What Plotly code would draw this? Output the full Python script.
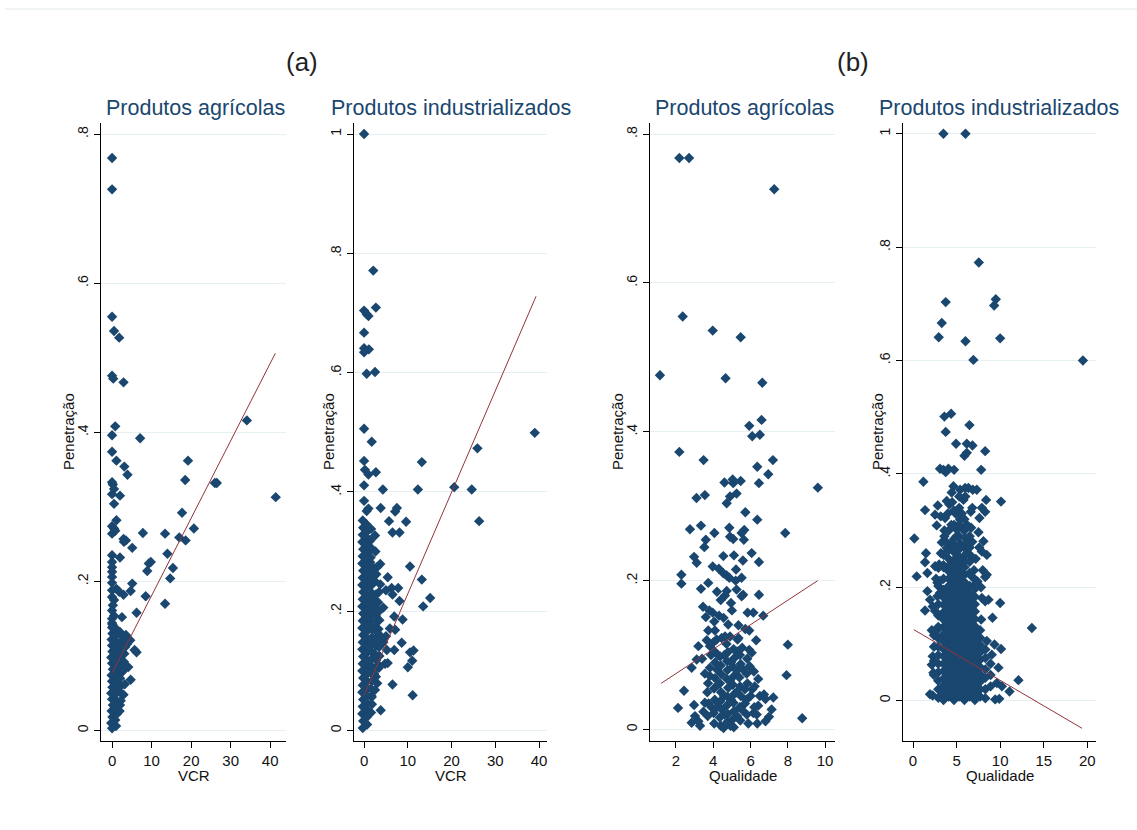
import plotly.graph_objects as go

# ---------------- data ----------------
# Panel (a) left: Produtos agrícolas, VCR vs Penetração
agr_vcr_pts = [
    (0, 0.768), (0, 0.726), (0, 0.555), (0.5, 0.536), (1.8, 0.527), (0, 0.476), (0.3, 0.472), (2.9, 0.467),
    (0.8, 0.408), (0, 0.396), (7.1, 0.392), (0, 0.374), (1.1, 0.362), (3.1, 0.354), (3.9, 0.343), (19.2, 0.362),
    (34.1, 0.416), (18.5, 0.336), (26.0, 0.332), (26.5, 0.332), (41.4, 0.313), (0, 0.333), (0.2, 0.330),
    (0.5, 0.324), (0, 0.317), (2.0, 0.315), (0.5, 0.304), (17.7, 0.292), (1.1, 0.282), (0, 0.274), (0.5, 0.271),
    (0, 0.264), (0.8, 0.268), (7.8, 0.265), (13.4, 0.264), (20.7, 0.271), (17.0, 0.259), (18.6, 0.255),
    (2.9, 0.257), (3.5, 0.255), (3.0, 0.253), (5.1, 0.245), (14.0, 0.237), (0, 0.235), (2.0, 0.232), (0, 0.226),
    (0, 0.219), (0, 0.213), (9.8, 0.226), (9.3, 0.224), (8.9, 0.214), (15.4, 0.218), (14.7, 0.204), (0, 0.206),
    (0, 0.198), (5.1, 0.197), (4.7, 0.187), (1.1, 0.190), (1.8, 0.186), (0, 0.179), (0.5, 0.175), (2.9, 0.182),
    (8.5, 0.180), (13.4, 0.170), (6.2, 0.158), (0, 0.161), (0.5, 0.154), (0, 0.150), (2.5, 0.152), (4.6, 0.121),
    (5.7, 0.108), (6.2, 0.105), (4.1, 0.085), (4.7, 0.068), (2.0, 0.034), (3.1, 0.103), (3.8, 0.116),
    (0, 0.003), (-0.2, 0.010), (0.1, 0.018), (-0.1, 0.026), (0.2, 0.034), (0, 0.042), (-0.2, 0.050),
    (0.1, 0.058), (0, 0.066), (-0.1, 0.074), (0.2, 0.082), (0, 0.090), (-0.2, 0.098), (0.1, 0.106), (0, 0.114),
    (-0.1, 0.122), (0.1, 0.130), (0, 0.138), (0, 0.144), (0.2, 0.168), (0, 0.188), (0.1, 0.142),
    (1.0, 0.006), (0.8, 0.014), (1.2, 0.022), (0.9, 0.030), (1.1, 0.040), (0.7, 0.048), (1.3, 0.056),
    (0.9, 0.064), (1.2, 0.072), (0.8, 0.080), (1.0, 0.089), (1.3, 0.097), (0.9, 0.105), (1.1, 0.113),
    (0.8, 0.121), (1.2, 0.129), (0.9, 0.137),
    (1.9, 0.026), (2.2, 0.040), (1.8, 0.052), (2.3, 0.060), (2.0, 0.070), (2.4, 0.078), (1.8, 0.086),
    (2.1, 0.094), (2.5, 0.101), (1.9, 0.110), (2.2, 0.118), (2.6, 0.126), (2.0, 0.132),
    (2.9, 0.048), (3.2, 0.062), (2.8, 0.080), (3.0, 0.092), (3.3, 0.112), (2.9, 0.122), (3.5, 0.128),
]
agr_vcr_fit_x = [0.0, 41.3]
agr_vcr_fit_y = [0.077, 0.506]

# Panel (a) right: Produtos industrializados, VCR vs Penetração
ind_vcr_pts = [
    (0, 1.0), (2.1, 0.771), (2.7, 0.709), (0, 0.704), (0.6, 0.698), (1.0, 0.695), (0, 0.667), (0, 0.641),
    (0, 0.634), (1.1, 0.639), (0.6, 0.598), (2.5, 0.601),
    (0, 0.506), (1.75, 0.484), (39.0, 0.499), (25.9, 0.473), (13.2, 0.450), (0, 0.452), (0.2, 0.437),
    (1.0, 0.429), (2.7, 0.433), (0, 0.411), (4.3, 0.404), (12.3, 0.404), (20.6, 0.408), (24.6, 0.404),
    (26.3, 0.351), (0, 0.385), (1.0, 0.372), (0.6, 0.368), (3.8, 0.373), (7.5, 0.373), (7.1, 0.367),
    (5.7, 0.351), (9.6, 0.350), (6.5, 0.332), (8.1, 0.332), (2.5, 0.327), (10.5, 0.275), (3.7, 0.279),
    (3.0, 0.274), (1.4, 0.282), (2.3, 0.272), (5.4, 0.257), (13.2, 0.253), (3.7, 0.245), (3.4, 0.232),
    (5.0, 0.235), (6.3, 0.239), (7.8, 0.239), (6.5, 0.228), (8.1, 0.217), (15.1, 0.222), (13.5, 0.208),
    (4.4, 0.206), (6.9, 0.191), (8.8, 0.186), (7.1, 0.169), (5.9, 0.171), (3.7, 0.159), (5.0, 0.158),
    (4.4, 0.148), (8.6, 0.147), (5.2, 0.135), (6.9, 0.135), (10.5, 0.131), (11.3, 0.134), (11.0, 0.117),
    (10.0, 0.106), (4.8, 0.112), (5.4, 0.113), (3.4, 0.105), (6.5, 0.077), (11.1, 0.059), (3.8, 0.034),
    (3.0, 0.079), (1.75, 0.056), (2.3, 0.095),
    (-0.3, 0.004), (-0.2, 0.016), (-0.4, 0.028), (-0.3, 0.040), (-0.2, 0.052), (-0.4, 0.064), (-0.3, 0.076),
    (-0.2, 0.088), (-0.4, 0.100), (-0.3, 0.112), (-0.2, 0.124), (-0.4, 0.136), (-0.3, 0.148), (-0.2, 0.160),
    (-0.4, 0.172), (-0.3, 0.184), (-0.2, 0.196), (-0.4, 0.208), (-0.3, 0.220), (-0.2, 0.232), (-0.4, 0.244),
    (-0.3, 0.256), (-0.2, 0.268), (-0.4, 0.280), (-0.3, 0.292), (-0.2, 0.304), (-0.4, 0.316), (-0.3, 0.328),
    (-0.2, 0.340), (-0.3, 0.352),
    (0.7, 0.010), (0.6, 0.022), (0.8, 0.034), (0.7, 0.046), (0.6, 0.058), (0.8, 0.070), (0.7, 0.082),
    (0.6, 0.094), (0.8, 0.106), (0.7, 0.118), (0.6, 0.130), (0.8, 0.142), (0.7, 0.154), (0.6, 0.166),
    (0.8, 0.178), (0.7, 0.190), (0.6, 0.202), (0.8, 0.214), (0.7, 0.226), (0.6, 0.238), (0.8, 0.250),
    (0.7, 0.262), (0.6, 0.274), (0.8, 0.286), (0.7, 0.298), (0.6, 0.310), (0.8, 0.322), (0.7, 0.334),
    (0.5, 0.346),
    (1.6, 0.030), (1.8, 0.044), (1.7, 0.058), (1.6, 0.070), (1.8, 0.083), (1.7, 0.096), (1.6, 0.108),
    (1.8, 0.120), (1.7, 0.132), (1.6, 0.144), (1.8, 0.156), (1.7, 0.170), (1.6, 0.182), (1.8, 0.194),
    (1.7, 0.206), (1.6, 0.218), (1.8, 0.230), (1.7, 0.244), (1.6, 0.256), (1.8, 0.268), (1.5, 0.290),
    (1.7, 0.305), (1.4, 0.318), (1.6, 0.338),
    (2.5, 0.068), (2.7, 0.090), (2.6, 0.104), (2.8, 0.118), (2.5, 0.128), (2.7, 0.142), (2.6, 0.152),
    (2.8, 0.166), (2.5, 0.180), (2.7, 0.192), (2.6, 0.205), (2.4, 0.218), (2.7, 0.228), (2.5, 0.250),
    (2.8, 0.262), (2.6, 0.300),
    (3.3, 0.110), (3.5, 0.125), (3.4, 0.140), (3.6, 0.150), (3.3, 0.170), (3.5, 0.185), (3.4, 0.200),
    (3.2, 0.215),
]
ind_vcr_fit_x = [0.0, 39.3]
ind_vcr_fit_y = [0.059, 0.728]

# Panel (b) left: Produtos agrícolas, Qualidade vs Penetração
agr_q_pts = [
    (2.18, 0.768), (2.70, 0.768), (7.27, 0.726), (2.36, 0.555), (3.97, 0.536), (5.47, 0.527), (1.14, 0.476),
    (4.66, 0.472), (6.63, 0.466), (5.93, 0.408), (6.59, 0.416), (6.09, 0.394), (6.50, 0.396),
    (2.18, 0.373), (3.48, 0.362), (7.20, 0.362), (6.36, 0.353), (6.95, 0.343), (4.60, 0.332), (5.07, 0.331),
    (5.04, 0.336), (5.47, 0.334), (6.45, 0.331), (9.61, 0.325), (3.10, 0.311), (3.55, 0.315), (4.90, 0.313),
    (5.25, 0.317), (4.72, 0.304), (5.72, 0.292), (6.36, 0.282), (2.75, 0.269), (3.34, 0.274), (4.86, 0.271),
    (4.06, 0.264), (7.86, 0.264), (4.90, 0.259), (5.07, 0.256), (5.66, 0.268), (5.52, 0.264), (5.64, 0.255),
    (3.60, 0.255), (3.52, 0.245), (2.97, 0.232), (3.11, 0.224), (4.54, 0.233), (5.11, 0.234), (6.06, 0.237),
    (6.45, 0.225), (5.59, 0.227), (3.97, 0.219), (4.30, 0.216), (4.54, 0.210), (4.72, 0.207), (4.86, 0.204),
    (5.22, 0.215), (5.52, 0.204), (2.29, 0.208), (2.29, 0.196), (3.73, 0.197), (3.34, 0.189), (4.72, 0.186),
    (4.63, 0.180), (5.25, 0.188), (5.60, 0.181), (5.52, 0.179), (6.45, 0.181), (4.40, 0.174), (4.95, 0.170),
    (3.79, 0.160), (3.97, 0.157), (4.31, 0.153), (3.60, 0.151), (5.84, 0.157), (6.15, 0.157), (6.68, 0.153),
    (4.80, 0.141), (3.73, 0.133), (4.09, 0.133), (5.72, 0.135), (5.93, 0.133), (8.00, 0.114), (3.20, 0.112),
    (3.82, 0.112), (4.00, 0.117), (4.18, 0.121), (4.45, 0.123), (4.63, 0.125), (5.30, 0.121), (5.35, 0.123),
    (5.93, 0.107), (6.06, 0.103), (3.11, 0.094), (2.84, 0.083), (3.82, 0.083), (7.93, 0.073), (6.41, 0.068),
    (3.82, 0.072), (4.09, 0.069), (2.43, 0.052), (2.11, 0.029), (2.97, 0.033), (8.77, 0.015), (2.84, 0.009),
    (3.02, 0.018), (3.20, 0.011), (3.29, 0.005), (3.47, 0.024), (3.55, 0.036), (5.88, 0.008), (6.36, 0.008),
    (6.80, 0.011), (6.99, 0.017), (7.13, 0.027), (7.22, 0.043), (6.50, 0.045), (6.72, 0.047), (6.80, 0.041),
    (6.41, 0.032), (6.15, 0.022), (6.33, 0.020), (6.09, 0.054), (5.70, 0.054), (5.70, 0.035),
    (4.40, 0.005), (4.35, 0.016), (4.45, 0.027), (4.38, 0.038), (4.42, 0.050), (4.36, 0.062), (4.44, 0.074),
    (4.40, 0.086), (4.37, 0.098),
    (4.75, 0.010), (4.78, 0.021), (4.72, 0.032), (4.76, 0.044), (4.80, 0.056), (4.73, 0.068), (4.77, 0.080),
    (4.74, 0.092), (4.79, 0.104), (4.71, 0.115),
    (5.10, 0.003), (5.06, 0.014), (5.12, 0.025), (5.08, 0.036), (5.14, 0.048), (5.05, 0.060), (5.11, 0.072),
    (5.07, 0.084), (5.13, 0.096), (5.09, 0.108),
    (5.45, 0.012), (5.42, 0.030), (5.48, 0.045), (5.44, 0.058), (5.40, 0.070), (5.47, 0.088), (5.43, 0.100),
    (4.05, 0.008), (4.02, 0.022), (4.08, 0.040), (4.04, 0.055), (4.10, 0.090), (4.06, 0.105),
    (3.70, 0.018), (3.75, 0.035), (3.68, 0.050), (3.72, 0.062),
    (5.80, 0.020), (5.78, 0.040), (5.83, 0.062), (5.79, 0.075), (5.82, 0.095),
    (6.20, 0.030), (6.22, 0.058), (6.18, 0.078),
    (4.55, 0.002), (4.58, 0.045), (4.60, 0.020), (4.92, 0.005), (4.95, 0.040), (4.90, 0.065), (5.28, 0.018),
    (5.25, 0.050), (5.30, 0.080), (4.20, 0.030), (4.25, 0.060), (4.22, 0.080), (3.90, 0.030), (3.88, 0.100),
    (5.60, 0.025), (5.62, 0.080), (5.95, 0.085), (6.00, 0.045), (4.60, 0.100), (4.95, 0.090), (5.28, 0.105),
    (4.25, 0.100), (3.55, 0.075), (3.40, 0.095),
    (4.05, 0.145), (4.55, 0.150), (5.00, 0.160), (5.35, 0.140), (3.65, 0.120), (4.90, 0.125), (5.55, 0.110),
    (6.30, 0.120), (3.45, 0.165), (5.20, 0.200), (4.20, 0.185),
]
agr_q_fit_x = [1.2, 9.6]
agr_q_fit_y = [0.062, 0.200]

# Panel (b) right: Produtos industrializados, Qualidade vs Penetração
ind_q_pts = [
    (3.49, 1.0), (6.02, 1.0), (7.55, 0.773), (3.75, 0.703), (9.50, 0.708), (9.31, 0.697), (3.30, 0.666),
    (2.95, 0.641), (6.02, 0.634), (10.0, 0.639), (6.93, 0.601), (19.5, 0.600), (3.60, 0.501), (4.37, 0.506),
    (3.75, 0.474), (6.48, 0.486), (4.94, 0.453), (6.17, 0.453), (6.82, 0.450), (5.90, 0.432), (6.17, 0.437),
    (8.28, 0.440), (3.10, 0.409), (3.49, 0.407), (4.06, 0.409), (4.71, 0.407), (3.75, 0.403), (7.82, 0.407),
    (1.19, 0.386), (4.64, 0.378), (5.40, 0.372), (5.98, 0.375), (6.36, 0.375), (6.86, 0.372), (7.32, 0.372),
    (4.44, 0.367), (5.79, 0.354), (8.39, 0.354), (10.1, 0.351), (2.84, 0.344), (3.87, 0.352), (4.18, 0.346),
    (1.38, 0.336), (6.63, 0.333), (7.90, 0.340), (8.28, 0.333), (2.53, 0.328), (3.18, 0.325), (3.68, 0.322),
    (4.94, 0.329), (5.40, 0.319), (7.62, 0.322), (2.72, 0.309), (5.00, 0.302), (5.79, 0.302), (6.67, 0.305),
    (7.51, 0.297), (0.15, 0.286), (3.60, 0.290), (5.00, 0.290), (5.98, 0.287), (8.08, 0.281), (3.30, 0.279),
    (4.25, 0.275), (5.40, 0.277), (6.17, 0.278), (3.87, 0.269), (4.83, 0.272), (1.49, 0.260), (7.90, 0.263),
    (8.47, 0.257), (3.49, 0.257), (6.17, 0.260), (6.55, 0.257), (1.38, 0.244), (5.00, 0.252), (5.40, 0.243),
    (5.98, 0.246), (2.53, 0.237), (2.91, 0.234), (3.49, 0.239), (4.06, 0.237), (4.44, 0.240), (1.65, 0.225),
    (0.42, 0.219), (8.47, 0.222), (8.28, 0.218), (2.64, 0.215), (3.10, 0.211), (6.74, 0.219), (7.13, 0.213),
    (2.80, 0.208), (2.91, 0.202), (7.13, 0.205), (1.65, 0.193), (3.10, 0.190), (2.80, 0.184), (7.90, 0.181),
    (8.66, 0.178), (8.28, 0.175), (1.95, 0.178), (10.0, 0.172), (2.26, 0.166), (2.53, 0.158), (1.38, 0.159),
    (7.82, 0.143), (9.12, 0.146), (13.64, 0.128), (2.15, 0.124), (2.80, 0.125), (8.47, 0.105), (9.35, 0.099),
    (10.1, 0.091), (9.04, 0.081), (2.26, 0.078), (2.15, 0.063), (2.34, 0.049), (9.80, 0.058), (12.1, 0.036),
    (11.07, 0.016), (1.95, 0.011), (2.26, 0.009), (9.43, 0.002), (9.90, 0.003), (9.62, 0.031), (10.2, 0.025),
    (3.2, 0.26), (3.6, 0.30), (4.0, 0.33), (4.4, 0.31), (5.6, 0.33), (6.2, 0.31), (6.8, 0.28), (7.2, 0.25),
    (7.0, 0.23), (3.0, 0.24), (3.8, 0.28), (4.5, 0.35), (6.0, 0.36), (6.8, 0.34), (7.6, 0.27), (7.4, 0.21),
    (7.8, 0.20), (8.0, 0.23),
    (2.9, 0.005), (2.9, 0.020), (2.9, 0.035), (2.9, 0.050), (2.9, 0.065), (2.9, 0.080), (2.9, 0.095),
    (2.9, 0.110), (2.9, 0.130), (2.9, 0.150), (2.9, 0.170),
    (3.5, 0.001), (3.5, 0.013), (3.5, 0.026), (3.5, 0.039), (3.5, 0.052), (3.5, 0.065), (3.5, 0.078),
    (3.5, 0.091), (3.5, 0.104), (3.5, 0.117), (3.5, 0.130), (3.5, 0.143), (3.5, 0.156), (3.5, 0.169),
    (3.5, 0.182), (3.5, 0.195), (3.5, 0.215), (3.5, 0.235),
    (4.1, 0.007), (4.1, 0.020), (4.1, 0.033), (4.1, 0.046), (4.1, 0.059), (4.1, 0.072), (4.1, 0.085),
    (4.1, 0.098), (4.1, 0.111), (4.1, 0.124), (4.1, 0.137), (4.1, 0.150), (4.1, 0.163), (4.1, 0.176),
    (4.1, 0.189), (4.1, 0.202), (4.1, 0.215), (4.1, 0.228), (4.1, 0.250), (4.1, 0.265), (4.1, 0.300),
    (4.7, 0.001), (4.7, 0.014), (4.7, 0.027), (4.7, 0.040), (4.7, 0.053), (4.7, 0.066), (4.7, 0.079),
    (4.7, 0.092), (4.7, 0.105), (4.7, 0.118), (4.7, 0.131), (4.7, 0.144), (4.7, 0.157), (4.7, 0.170),
    (4.7, 0.183), (4.7, 0.196), (4.7, 0.209), (4.7, 0.222), (4.7, 0.235), (4.7, 0.248), (4.7, 0.262),
    (4.7, 0.285), (4.7, 0.310), (4.7, 0.335),
    (5.3, 0.007), (5.3, 0.020), (5.3, 0.033), (5.3, 0.046), (5.3, 0.059), (5.3, 0.072), (5.3, 0.085),
    (5.3, 0.098), (5.3, 0.111), (5.3, 0.124), (5.3, 0.137), (5.3, 0.150), (5.3, 0.163), (5.3, 0.176),
    (5.3, 0.189), (5.3, 0.202), (5.3, 0.215), (5.3, 0.228), (5.3, 0.241), (5.3, 0.254), (5.3, 0.267),
    (5.3, 0.290), (5.3, 0.310), (5.3, 0.340), (5.3, 0.360),
    (5.9, 0.001), (5.9, 0.014), (5.9, 0.027), (5.9, 0.040), (5.9, 0.053), (5.9, 0.066), (5.9, 0.079),
    (5.9, 0.092), (5.9, 0.105), (5.9, 0.118), (5.9, 0.131), (5.9, 0.144), (5.9, 0.157), (5.9, 0.170),
    (5.9, 0.183), (5.9, 0.196), (5.9, 0.209), (5.9, 0.222), (5.9, 0.235), (5.9, 0.255), (5.9, 0.270),
    (5.9, 0.300), (5.9, 0.320),
    (6.5, 0.007), (6.5, 0.020), (6.5, 0.033), (6.5, 0.046), (6.5, 0.059), (6.5, 0.072), (6.5, 0.085),
    (6.5, 0.098), (6.5, 0.111), (6.5, 0.124), (6.5, 0.137), (6.5, 0.150), (6.5, 0.163), (6.5, 0.176),
    (6.5, 0.189), (6.5, 0.202), (6.5, 0.225), (6.5, 0.245), (6.5, 0.270), (6.5, 0.290),
    (7.1, 0.001), (7.1, 0.014), (7.1, 0.027), (7.1, 0.040), (7.1, 0.053), (7.1, 0.066), (7.1, 0.079),
    (7.1, 0.092), (7.1, 0.105), (7.1, 0.118), (7.1, 0.131), (7.1, 0.144), (7.1, 0.157), (7.1, 0.170),
    (7.1, 0.183), (7.1, 0.197),
    (7.7, 0.007), (7.7, 0.020), (7.7, 0.033), (7.7, 0.046), (7.7, 0.059), (7.7, 0.072), (7.7, 0.085),
    (7.7, 0.098), (7.7, 0.111), (7.7, 0.124),
    (8.3, 0.004), (8.3, 0.020), (8.3, 0.040), (8.3, 0.055), (8.3, 0.075), (8.3, 0.090),
    (8.9, 0.025), (8.9, 0.045), (8.9, 0.065),
    (2.4, 0.045), (2.4, 0.070), (2.4, 0.095), (2.4, 0.115),
]
ind_q_fit_x = [0.1, 19.4]
ind_q_fit_y = [0.125, -0.049]

panel_titles = ["Produtos agrícolas", "Produtos industrializados", "Produtos agrícolas", "Produtos industrializados"]
x_titles = ["VCR", "VCR", "Qualidade", "Qualidade"]
y_title = "Penetração"
group_labels = ["(a)", "(b)"]

yticks_08 = [0, 0.2, 0.4, 0.6, 0.8]
yticks_08_text = ["0", ".2", ".4", ".6", ".8"]
yticks_10 = [0, 0.2, 0.4, 0.6, 0.8, 1.0]
yticks_10_text = ["0", ".2", ".4", ".6", ".8", "1"]
xticks_vcr = [0, 10, 20, 30, 40]
xticks_q_agr = [2, 4, 6, 8, 10]
xticks_q_ind = [0, 5, 10, 15, 20]

# ---------------- layout constants (pixels) ----------------
W, H = 1137, 830
NAVY = "#1a476f"
FIT = "#90353b"
GRID = "#e6eff1"
FONT = "Liberation Sans, Arial, sans-serif"

plot_px = [(101, 286), (354, 547), (650, 835), (903, 1096)]
top_px, bot_px = 123, 740.5
x_ranges = [[-2.8, 44.0], [-2.3, 41.8], [0.606, 10.53], [-1.15, 21.0]]
y_ranges = [[-0.0135, 0.815], [-0.0168, 1.0185], [-0.0148, 0.815], [-0.0705, 1.019]]
yt = [(yticks_08, yticks_08_text), (yticks_10, yticks_10_text), (yticks_08, yticks_08_text), (yticks_10, yticks_10_text)]
xt = [xticks_vcr, xticks_vcr, xticks_q_agr, xticks_q_ind]
datasets = [
    (agr_vcr_pts, agr_vcr_fit_x, agr_vcr_fit_y),
    (ind_vcr_pts, ind_vcr_fit_x, ind_vcr_fit_y),
    (agr_q_pts, agr_q_fit_x, agr_q_fit_y),
    (ind_q_pts, ind_q_fit_x, ind_q_fit_y),
]


def px2x(px):
    return px / W


def py2y(py):
    return 1 - py / H


fig = go.Figure()
layout = dict(
    width=W, height=H,
    margin=dict(l=0, r=0, t=0, b=0),
    paper_bgcolor="white", plot_bgcolor="white",
    showlegend=False,
    font=dict(family=FONT, color="#000000"),
)
annotations = []

for i in range(4):
    n = "" if i == 0 else str(i + 1)
    pts, fx, fy = datasets[i]
    xs = [p[0] for p in pts]
    ys = [p[1] for p in pts]
    fig.add_trace(go.Scatter(
        x=xs, y=ys, mode="markers", xaxis="x" + n, yaxis="y" + n,
        marker=dict(symbol="diamond", size=8, color=NAVY, line=dict(width=0)),
        hoverinfo="skip",
    ))
    fig.add_trace(go.Scatter(
        x=fx, y=fy, mode="lines", xaxis="x" + n, yaxis="y" + n,
        line=dict(color=FIT, width=1), hoverinfo="skip",
    ))
    l, r = plot_px[i]
    layout["xaxis" + n] = dict(
        domain=[px2x(l), px2x(r)], anchor="y" + n, range=x_ranges[i],
        showgrid=False, zeroline=False, showline=True, linecolor="#000", linewidth=1.4,
        ticks="outside", ticklen=6, tickwidth=1, tickcolor="#000",
        tickvals=xt[i], ticktext=[str(v) for v in xt[i]],
        tickfont=dict(size=15, family=FONT, color="#111"),
    )
    layout["yaxis" + n] = dict(
        domain=[py2y(bot_px), py2y(top_px)], anchor="x" + n, range=y_ranges[i],
        showgrid=True, gridcolor=GRID, gridwidth=1, zeroline=False,
        showline=True, linecolor="#000", linewidth=1.4,
        ticks="outside", ticklen=6, tickwidth=1, tickcolor="#000",
        tickvals=yt[i][0], ticktext=yt[i][1], tickangle=-90,
        tickfont=dict(size=14, family=FONT, color="#111"),
    )
    cx = (l + r) / 2
    title_cx = [195, 451, 744, 999][i]
    annotations.append(dict(
        text=panel_titles[i], x=px2x(title_cx), y=py2y(108), xref="paper", yref="paper",
        xanchor="center", yanchor="middle", showarrow=False,
        font=dict(size=21.5, color=NAVY, family=FONT),
    ))
    annotations.append(dict(
        text=x_titles[i], x=px2x(cx), y=py2y(775), xref="paper", yref="paper",
        xanchor="center", yanchor="middle", showarrow=False,
        font=dict(size=15, color="#111", family=FONT),
    ))
    annotations.append(dict(
        text=y_title, x=px2x(l - 33 if i in (0, 2) else l - 26), y=py2y(432), xref="paper", yref="paper",
        xanchor="center", yanchor="middle", showarrow=False, textangle=-90,
        font=dict(size=15, color="#111", family=FONT),
    ))

for lbl, gx in zip(group_labels, [302, 853]):
    annotations.append(dict(
        text=lbl, x=px2x(gx), y=py2y(62), xref="paper", yref="paper",
        xanchor="center", yanchor="middle", showarrow=False,
        font=dict(size=26, color="#222", family=FONT),
    ))

layout["annotations"] = annotations
layout["shapes"] = [dict(type="line", xref="paper", yref="paper",
                         x0=px2x(5), x1=1, y0=py2y(9), y1=py2y(9),
                         line=dict(color="#e3e9eb", width=1))]
fig.update_layout(**layout)
fig.write_html("out.html")
